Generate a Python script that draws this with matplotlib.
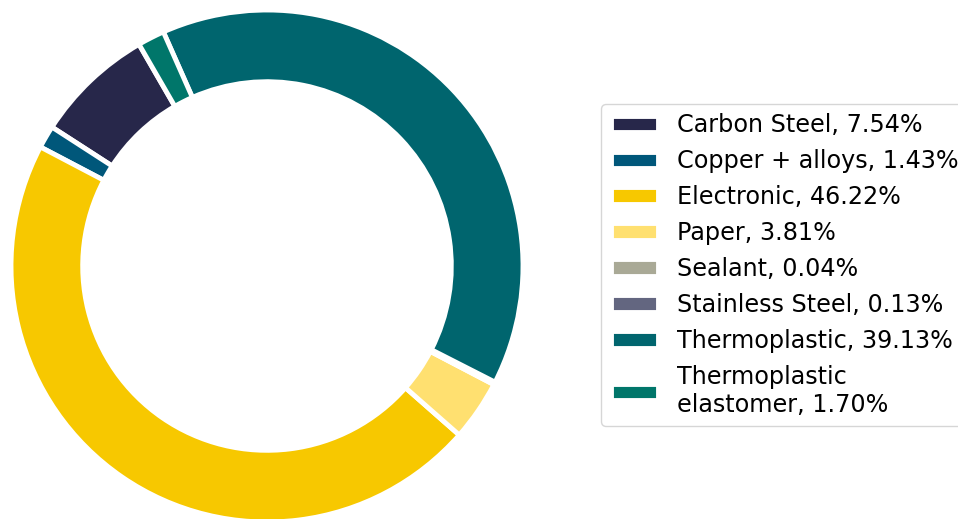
import matplotlib
matplotlib.use("Agg")
import matplotlib.pyplot as plt

materials = ['Carbon Steel', 'Copper + alloys', 'Electronic', 'Paper', 'Sealant',
             'Stainless Steel', 'Thermoplastic', 'Thermoplastic\nelastomer']
shares = [7.54, 1.43, 46.22, 3.81, 0.04, 0.13, 39.13, 1.70]
colors = ['#27274a', '#00577a', '#f7c800', '#ffe070', '#a9a996',
          '#636680', '#00656e', '#00766a']

fig = plt.figure(figsize=(9.58, 5.19), dpi=100)

W, H = 958, 519
cx, cy, r = 267, 519 - 266, 256
ax = fig.add_axes([(cx - r) / W, (cy - r) / H, 2 * r / W, 2 * r / H])

wedges, _ = ax.pie(shares, colors=colors, startangle=120, radius=1,
                   wedgeprops=dict(width=0.28, edgecolor='white', linewidth=3.5))
ax.set_xlim(-1, 1)
ax.set_ylim(-1, 1)
ax.set_aspect('equal')
ax.axis('off')

labels = ['{}, {:.2f}%'.format(m, s) for m, s in zip(materials, shares)]
fig.legend(wedges, labels, loc='center left', bbox_to_anchor=(601 / W, 254 / H),
           borderaxespad=0, fontsize=17.2)

fig.savefig('out.png', dpi=100)
